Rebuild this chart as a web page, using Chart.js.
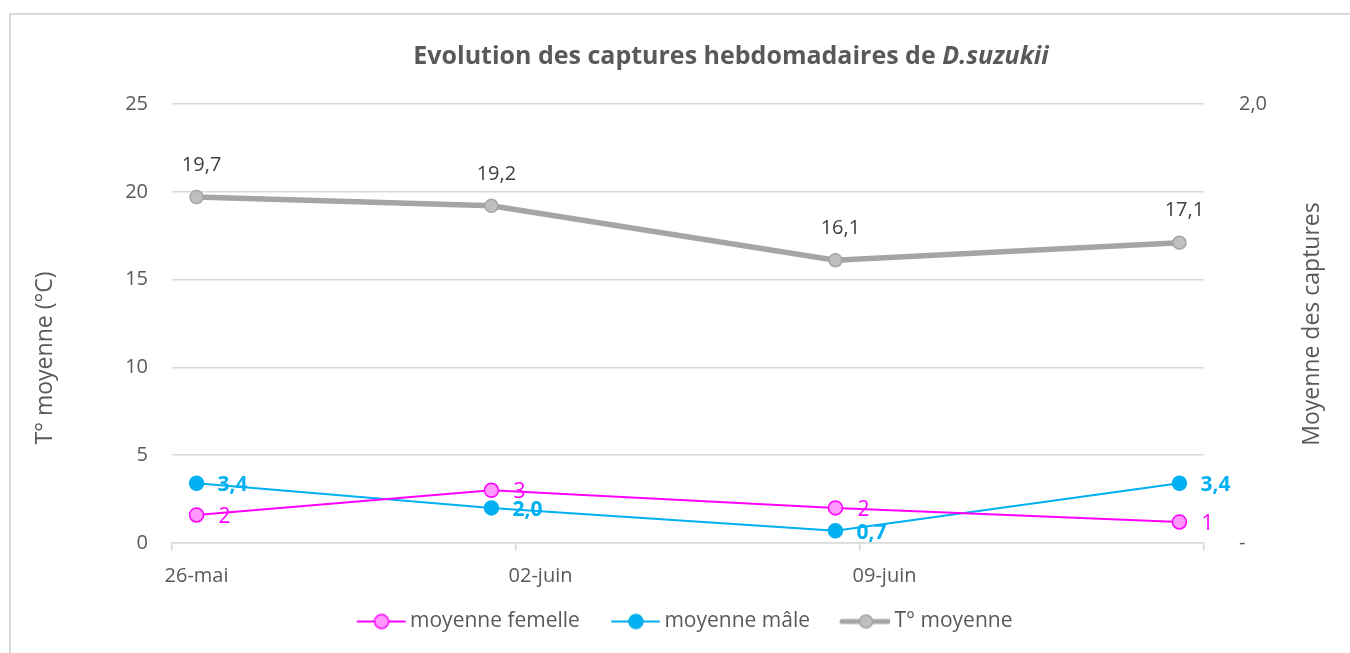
<!DOCTYPE html>
<html><head><meta charset="utf-8">
<script src="https://cdn.jsdelivr.net/npm/chart.js@4.4.0/dist/chart.umd.min.js"></script>
<style>html,body{margin:0;padding:0;background:#fff;overflow:hidden}#wrap{width:1350px;height:653px;position:relative}</style>
</head><body><div id="wrap"><canvas id="c" width="1350" height="653"></canvas></div>
<script>
// ---- data ----
const dayIndex = [0, 6, 13, 20];              // days since 26 May (26-mai, 01-juin, 08-juin, 15-juin)
const femaleValues = [1.6, 3.0, 2.0, 1.2];
const maleValues = [3.4, 2.0, 0.7, 3.4];
const tempValues = [19.7, 19.2, 16.1, 17.1];
const xTickLabels = ['26-mai', '02-juin', '09-juin', ''];
const seriesNames = ['moyenne femelle', 'moyenne mâle', 'T° moyenne'];
const chartTitle = 'Evolution des captures hebdomadaires de ';
const chartTitleItalic = 'D.suzukii';
const leftAxisTitle = 'T° moyenne (°C)';
const rightAxisTitle = 'Moyenne des captures';

const FONT = '"Open Sans", "Noto Sans", sans-serif';
const TXT = '#595959';
const GRID = '#d9d9d9';
const C_F = '#FF00FF', C_F_FILL = '#FF99FF';
const C_M = '#00B0F0';
const C_T = '#A5A5A5', C_T_FILL = '#BFBFBF';

const toPts = vals => vals.map((v, i) => ({ x: dayIndex[i] + 0.5, y: v }));
const fmt = (v, d) => v.toFixed(d).replace('.', ',');

// legend swatch: line + marker, drawn in the right part of a wider transparent canvas
function legendIcon(lineColor, lineWidth, fill, stroke, r) {
  const c = document.createElement('canvas');
  c.width = 64; c.height = 20;
  const g = c.getContext('2d');
  g.strokeStyle = lineColor; g.lineWidth = lineWidth; g.lineCap = 'round';
  g.beginPath(); g.moveTo(16, 10); g.lineTo(63, 10); g.stroke();
  g.beginPath(); g.arc(40, 10, r, 0, Math.PI * 2);
  g.fillStyle = fill; g.fill();
  g.lineWidth = 1.5; g.strokeStyle = stroke; g.stroke();
  return c;
}
const icons = [
  legendIcon(C_F, 2, C_F_FILL, C_F, 7),
  legendIcon(C_M, 2, C_M, C_M, 7),
  legendIcon(C_T, 5, C_T_FILL, C_T, 6.5)
];

const decor = {
  id: 'decor',
  beforeDraw(chart) {
    const ctx = chart.ctx;
    ctx.save();
    ctx.fillStyle = '#fff'; ctx.fillRect(0, 0, chart.width, chart.height);
    ctx.strokeStyle = GRID; ctx.lineWidth = 2;
    ctx.strokeRect(10, 14, 1500, 800);
    ctx.restore();
  },
  afterDraw(chart) {
    const ctx = chart.ctx;
    ctx.save();
    // title
    ctx.fillStyle = TXT;
    ctx.textBaseline = 'middle';
    const f1 = 'bold 25px ' + FONT, f2 = 'italic bold 25px ' + FONT;
    ctx.font = f1; const w1 = ctx.measureText(chartTitle).width;
    ctx.font = f2; const w2 = ctx.measureText(chartTitleItalic).width;
    let x0 = 731 - (w1 + w2) / 2;
    ctx.textAlign = 'left';
    ctx.font = f1; ctx.fillText(chartTitle, x0, 57);
    ctx.font = f2; ctx.fillText(chartTitleItalic, x0 + w1, 57);
    // axis titles
    ctx.font = '23px ' + FONT;
    ctx.textAlign = 'center';
    ctx.save(); ctx.translate(45, 358); ctx.rotate(-Math.PI / 2); ctx.fillText(leftAxisTitle, 0, 0); ctx.restore();
    ctx.save(); ctx.translate(1312, 324); ctx.rotate(-Math.PI / 2); ctx.fillText(rightAxisTitle, 0, 0); ctx.restore();
    ctx.restore();
  },
  afterDatasetsDraw(chart) {
    const ctx = chart.ctx;
    ctx.save();
    ctx.textBaseline = 'middle';
    chart.data.datasets.forEach((ds, di) => {
      const meta = chart.getDatasetMeta(di);
      meta.data.forEach((pt, i) => {
        const v = ds.data[i].y;
        if (di === 2) {
          ctx.font = '20px ' + FONT; ctx.fillStyle = '#404040'; ctx.textAlign = 'center';
          ctx.fillText(fmt(v, 1), pt.x + 5, pt.y - 32);
        } else if (di === 0) {
          ctx.font = '21px ' + FONT; ctx.fillStyle = C_F; ctx.textAlign = 'left';
          ctx.fillText(fmt(v, 0), pt.x + 22, pt.y + 2);
        } else {
          ctx.font = 'bold 21px ' + FONT; ctx.fillStyle = C_M; ctx.textAlign = 'left';
          ctx.fillText(fmt(v, 1), pt.x + 21, pt.y + 2);
        }
      });
    });
    ctx.restore();
  }
};

new Chart(document.getElementById('c'), {
  type: 'line',
  data: {
    datasets: [
      { label: seriesNames[0], data: toPts(femaleValues), yAxisID: 'y', borderColor: C_F, borderWidth: 2,
        pointRadius: 7, pointBackgroundColor: C_F_FILL, pointBorderColor: C_F, pointBorderWidth: 1.5, tension: 0 },
      { label: seriesNames[1], data: toPts(maleValues), yAxisID: 'y', borderColor: C_M, borderWidth: 2,
        pointRadius: 7, pointBackgroundColor: C_M, pointBorderColor: C_M, pointBorderWidth: 1.5, tension: 0 },
      { label: seriesNames[2], data: toPts(tempValues), yAxisID: 'y', borderColor: C_T, borderWidth: 5.5,
        pointRadius: 6.5, pointBackgroundColor: C_T_FILL, pointBorderColor: C_T, pointBorderWidth: 1.5, tension: 0 }
    ]
  },
  options: {
    responsive: false, animation: false, devicePixelRatio: 1,
    layout: { padding: { top: 104, left: 10, right: 0, bottom: 11 } },
    scales: {
      x: {
        type: 'linear', min: 0, max: 21,
        afterBuildTicks: s => { s.ticks = [0, 7, 14, 21].map(v => ({ value: v })); },
        afterFit: s => { s.height = 46; },
        ticks: { autoSkip: false, maxRotation: 0, padding: 13, labelOffset: 24.5, color: TXT,
          font: { family: FONT, size: 20 }, callback: (v, i) => xTickLabels[i] },
        grid: { drawOnChartArea: false, drawTicks: true, tickLength: 8, color: GRID, lineWidth: 1.5 },
        border: { display: true, color: GRID, width: 1.5 }
      },
      y: {
        position: 'left', min: 0, max: 25,
        afterFit: s => { s.width = 162; },
        ticks: { stepSize: 5, padding: 24, color: TXT, font: { family: FONT, size: 20 } },
        grid: { color: GRID, lineWidth: 1.5, drawTicks: false },
        border: { display: false }
      },
      y2: {
        position: 'right', min: 0, max: 2,
        afterFit: s => { s.width = 146; },
        afterBuildTicks: s => { s.ticks = [0, 2].map(v => ({ value: v })); },
        ticks: { padding: 35, color: TXT, font: { family: FONT, size: 20 },
          callback: v => v === 0 ? '-' : fmt(v, 1) },
        grid: { display: false, drawTicks: false },
        border: { display: false }
      }
    },
    plugins: {
      legend: {
        position: 'bottom',
        labels: {
          usePointStyle: true, pointStyleWidth: 52, padding: 22, color: TXT,
          font: { family: FONT, size: 21 },
          generateLabels: chart => chart.data.datasets.map((ds, i) => ({
            text: ds.label, pointStyle: icons[i], fillStyle: 'transparent', strokeStyle: 'transparent',
            lineWidth: 0, hidden: false, datasetIndex: i, fontColor: TXT
          }))
        }
      },
      tooltip: { enabled: false }
    }
  },
  plugins: [decor]
});
</script></body></html>
